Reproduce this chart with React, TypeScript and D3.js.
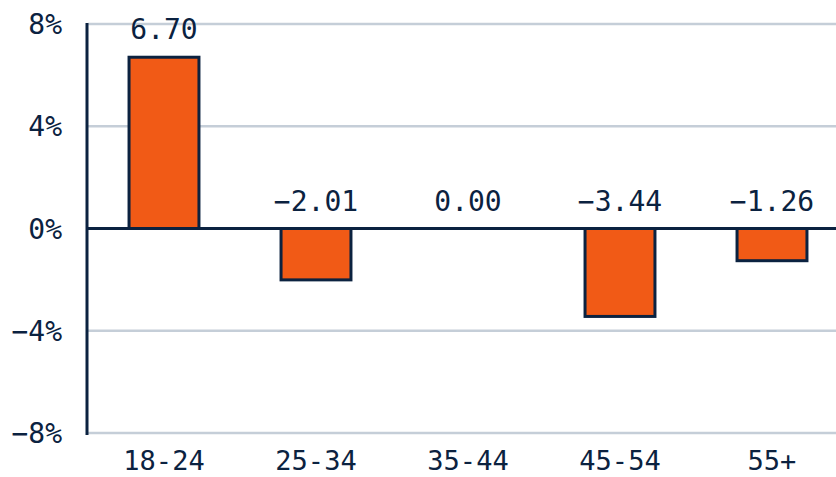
import React from 'react';
import * as d3 from 'd3';

const categories = ['18-24', '25-34', '35-44', '45-54', '55+'];
const values = [6.7, -2.01, 0.0, -3.44, -1.26];
const yTicks = [-8, -4, 0, 4, 8];

const WIDTH = 836;
const HEIGHT = 477;
const NAVY = '#0b2240';
const ORANGE = '#f15a16';
const GRID = '#c5ced8';
const FONT = '"DejaVu Sans Mono", "Liberation Mono", monospace';

export default function App() {
  const margin = { top: 24, right: 0, bottom: 44, left: 88 };

  const x = d3.scaleBand<string>()
    .domain(categories)
    .range([margin.left, margin.left + 760])
    .paddingInner(0.54)
    .paddingOuter(0.27);

  const y = d3.scaleLinear()
    .domain([-8, 8])
    .range([HEIGHT - margin.bottom, margin.top]);

  const fmtVal = d3.format('.2f');
  const fmtTick = (d: number) => d3.format('d')(d) + '%';

  return (
    <svg
      width={WIDTH}
      height={HEIGHT}
      style={{ position: 'absolute', left: 0, top: 0, background: '#fff' }}
    >
      {/* gridlines */}
      {yTicks.filter(t => t !== 0).map(t => (
        <line key={t} x1={margin.left} x2={WIDTH} y1={y(t)} y2={y(t)}
          stroke={GRID} strokeWidth={2.6} />
      ))}

      {/* tick labels */}
      {yTicks.map(t => (
        <text key={t} x={62} y={y(t)} dy="0.36em" textAnchor="end"
          fontFamily={FONT} fontSize={28} fill={NAVY}>
          {fmtTick(t)}
        </text>
      ))}

      {/* bars */}
      {values.map((v, i) => (
        <rect key={categories[i]}
          x={x(categories[i])}
          y={y(Math.max(v, 0))}
          width={x.bandwidth()}
          height={Math.abs(y(v) - y(0))}
          fill={ORANGE} stroke={NAVY} strokeWidth={3} />
      ))}

      {/* value labels */}
      {values.map((v, i) => (
        <text key={categories[i]}
          x={(x(categories[i]) as number) + x.bandwidth() / 2}
          y={y(Math.max(v, 0)) - 18}
          textAnchor="middle" fontFamily={FONT} fontSize={28} fill={NAVY}>
          {fmtVal(v)}
        </text>
      ))}

      {/* zero line */}
      <line x1={margin.left} x2={WIDTH} y1={y(0)} y2={y(0)} stroke={NAVY} strokeWidth={3} />

      {/* left axis */}
      <line x1={margin.left - 1} x2={margin.left - 1} y1={y(8) - 1} y2={y(-8) + 2}
        stroke={NAVY} strokeWidth={3} />

      {/* category labels */}
      {categories.map(c => (
        <text key={c}
          x={(x(c) as number) + x.bandwidth() / 2}
          y={470}
          textAnchor="middle" fontFamily={FONT} fontSize={27} fill={NAVY}>
          {c}
        </text>
      ))}
    </svg>
  );
}
